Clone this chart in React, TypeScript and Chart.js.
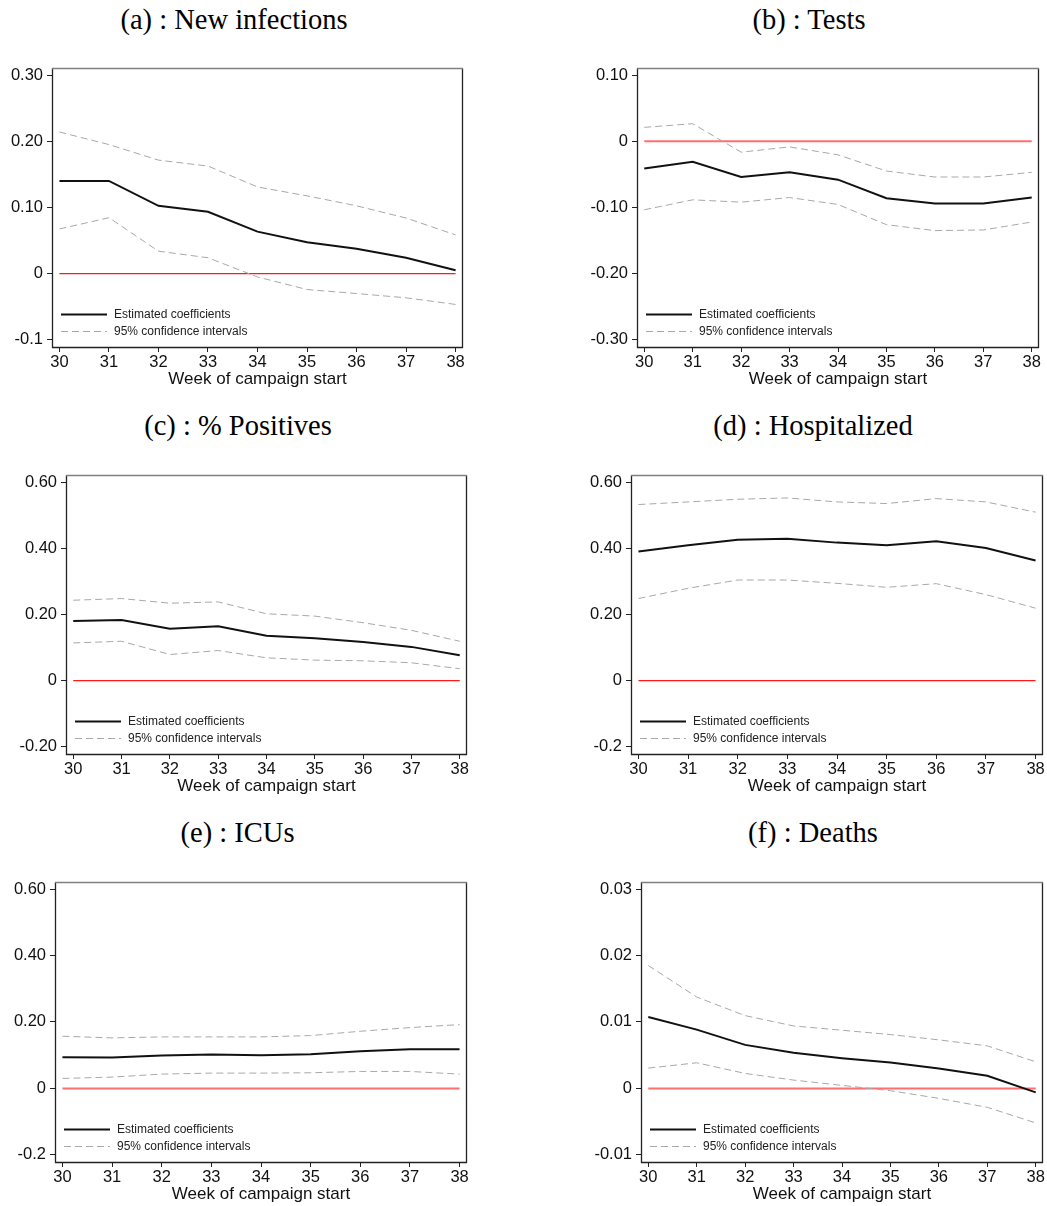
import React, { useEffect, useRef } from 'react';
import { Chart, registerables } from 'chart.js';
Chart.register(...registerables);

const weeks = [30, 31, 32, 33, 34, 35, 36, 37, 38];

const infectionsEst = [0.14, 0.14, 0.1025, 0.0935, 0.0635, 0.0475, 0.0375, 0.024, 0.005];
const infectionsUpper = [0.214, 0.195, 0.1715, 0.1625, 0.131, 0.1175, 0.1025, 0.084, 0.0585];
const infectionsLower = [0.0675, 0.0845, 0.034, 0.024, -0.005, -0.024, -0.03, -0.0365, -0.0465];
const infectionsTicks = [0.3, 0.2, 0.1, 0, -0.1];
const infectionsTickLabels = ['0.30', '0.20', '0.10', '0', '-0.1'];

const testsEst = [-0.041, -0.031, -0.054, -0.047, -0.058, -0.086, -0.094, -0.094, -0.085];
const testsUpper = [0.021, 0.0265, -0.0165, -0.0085, -0.0205, -0.045, -0.054, -0.054, -0.047];
const testsLower = [-0.1035, -0.0885, -0.092, -0.085, -0.0955, -0.126, -0.135, -0.134, -0.122];
const testsTicks = [0.1, 0, -0.1, -0.2, -0.3];
const testsTickLabels = ['0.10', '0', '-0.10', '-0.20', '-0.30'];

const positivesEst = [0.18, 0.183, 0.157, 0.164, 0.136, 0.128, 0.117, 0.102, 0.077];
const positivesUpper = [0.243, 0.248, 0.234, 0.238, 0.202, 0.195, 0.175, 0.152, 0.119];
const positivesLower = [0.114, 0.119, 0.079, 0.091, 0.069, 0.062, 0.06, 0.054, 0.036];
const positivesTicks = [0.6, 0.4, 0.2, 0, -0.2];
const positivesTickLabels = ['0.60', '0.40', '0.20', '0', '-0.20'];

const hospEst = [0.39, 0.409, 0.426, 0.429, 0.417, 0.409, 0.421, 0.401, 0.363];
const hospUpper = [0.532, 0.54, 0.548, 0.552, 0.54, 0.535, 0.55, 0.54, 0.509];
const hospLower = [0.248, 0.279, 0.304, 0.304, 0.294, 0.282, 0.293, 0.26, 0.219];
const hospTicks = [0.6, 0.4, 0.2, 0, -0.2];
const hospTickLabels = ['0.60', '0.40', '0.20', '0', '-0.2'];

const icuEst = [0.094, 0.093, 0.099, 0.102, 0.1, 0.103, 0.112, 0.118, 0.118];
const icuUpper = [0.157, 0.152, 0.155, 0.155, 0.155, 0.159, 0.172, 0.183, 0.192];
const icuLower = [0.03, 0.034, 0.043, 0.046, 0.046, 0.047, 0.051, 0.051, 0.043];
const icuTicks = [0.6, 0.4, 0.2, 0, -0.2];
const icuTickLabels = ['0.60', '0.40', '0.20', '0', '-0.2'];

const deathsEst = [0.01075, 0.00885, 0.00655, 0.00535, 0.00455, 0.0039, 0.003, 0.0019, -0.0006];
const deathsUpper = [0.0185, 0.01375, 0.01095, 0.0094, 0.00875, 0.0081, 0.0073, 0.0064, 0.004];
const deathsLower = [0.00305, 0.00385, 0.00225, 0.00125, 0.00045, -0.00035, -0.0015, -0.00285, -0.0052];
const deathsTicks = [0.03, 0.02, 0.01, 0, -0.01];
const deathsTickLabels = ['0.03', '0.02', '0.01', '0', '-0.01'];

const xTitle = 'Week of campaign start';
const estLabel = 'Estimated coefficients';
const ciLabel = '95% confidence intervals';

type Panel = {
  title: string;
  titleX: number;
  titleY: number;
  box: [number, number, number, number];
  est: number[];
  upper: number[];
  lower: number[];
  ticks: number[];
  tickLabels: string[];
  zeroColor: string;
  zeroWidth: number;
};

const panels: Panel[] = [
  { title: '(a) : New infections', titleX: 234, titleY: 20, box: [52, 66, 463, 347], est: infectionsEst, upper: infectionsUpper, lower: infectionsLower, ticks: infectionsTicks, tickLabels: infectionsTickLabels, zeroColor: '#ff1a1a', zeroWidth: 1.2 },
  { title: '(b) : Tests', titleX: 809, titleY: 20, box: [637, 66, 1039, 347], est: testsEst, upper: testsUpper, lower: testsLower, ticks: testsTicks, tickLabels: testsTickLabels, zeroColor: '#ff6e6e', zeroWidth: 2 },
  { title: '(c) : % Positives', titleX: 238, titleY: 426, box: [66, 473, 467, 754], est: positivesEst, upper: positivesUpper, lower: positivesLower, ticks: positivesTicks, tickLabels: positivesTickLabels, zeroColor: '#ff1a1a', zeroWidth: 1.2 },
  { title: '(d) : Hospitalized', titleX: 813, titleY: 426, box: [631, 473, 1043, 754], est: hospEst, upper: hospUpper, lower: hospLower, ticks: hospTicks, tickLabels: hospTickLabels, zeroColor: '#ff1a1a', zeroWidth: 1.2 },
  { title: '(e) : ICUs', titleX: 237.5, titleY: 833, box: [55, 880, 467, 1162], est: icuEst, upper: icuUpper, lower: icuLower, ticks: icuTicks, tickLabels: icuTickLabels, zeroColor: '#ff6e6e', zeroWidth: 2 },
  { title: '(f) : Deaths', titleX: 813, titleY: 833, box: [641, 880, 1043, 1162], est: deathsEst, upper: deathsUpper, lower: deathsLower, ticks: deathsTicks, tickLabels: deathsTickLabels, zeroColor: '#ff6e6e', zeroWidth: 2 },
];

const SANS = '"Liberation Sans", Arial, sans-serif';
const SERIF = '"Liberation Serif", "Times New Roman", serif';
const CI_COLOR = '#a8a8a8';
const EST_COLOR = '#111111';

const padL = 60, padT = 12, padR = 12, padB = 48;

const boxPlugin = {
  id: 'stataBox',
  afterDatasetsDraw(chart: any) {
    const { ctx, chartArea: a } = chart;
    ctx.save();
    ctx.lineWidth = 1.3;
    ctx.strokeStyle = '#222';
    ctx.beginPath();
    ctx.moveTo(a.left + 0.5, a.top);
    ctx.lineTo(a.left + 0.5, a.bottom + 0.5);
    ctx.lineTo(a.right - 0.5, a.bottom + 0.5);
    ctx.lineTo(a.right - 0.5, a.top);
    ctx.stroke();
    ctx.lineWidth = 1.5;
    ctx.strokeStyle = '#808080';
    ctx.beginPath();
    ctx.moveTo(a.left, a.top + 0.5);
    ctx.lineTo(a.right, a.top + 0.5);
    ctx.stroke();
    ctx.restore();
  },
};

const legendPlugin = {
  id: 'stataLegend',
  afterDraw(chart: any) {
    const { ctx, chartArea: a } = chart;
    const rows = [
      { label: estLabel, color: EST_COLOR, width: 2, dash: [] as number[], dy: 32.5 },
      { label: ciLabel, color: CI_COLOR, width: 1, dash: [7, 4], dy: 15.5 },
    ];
    ctx.save();
    for (const r of rows) {
      const y = a.bottom - r.dy;
      ctx.beginPath();
      ctx.setLineDash(r.dash);
      ctx.lineWidth = r.width;
      ctx.strokeStyle = r.color;
      ctx.moveTo(a.left + 9, y);
      ctx.lineTo(a.left + 55, y);
      ctx.stroke();
      ctx.setLineDash([]);
      ctx.fillStyle = '#222';
      ctx.font = `12px ${SANS}`;
      ctx.textBaseline = 'middle';
      ctx.textAlign = 'left';
      ctx.fillText(r.label, a.left + 62, y);
    }
    ctx.restore();
  },
};

function PanelChart({ p }: { p: Panel }) {
  const ref = useRef<HTMLCanvasElement>(null);
  const [L, T, R, B] = p.box;
  const w = R - L + padL + padR;
  const h = B - T + padT + padB;
  useEffect(() => {
    const lo = Math.min(...p.ticks);
    const hi = Math.max(...p.ticks);
    const m = (hi - lo) * 0.027;
    const pts = (arr: number[]) => weeks.map((x, i) => ({ x, y: arr[i] }));
    const chart = new Chart(ref.current as HTMLCanvasElement, {
      type: 'line',
      data: {
        datasets: [
          { label: estLabel, data: pts(p.est), borderColor: EST_COLOR, borderWidth: 2, pointRadius: 0, fill: false, tension: 0 },
          { label: ciLabel, data: pts(p.upper), borderColor: CI_COLOR, borderWidth: 1, borderDash: [7, 4], pointRadius: 0, fill: false },
          { label: ciLabel + ' (lower)', data: pts(p.lower), borderColor: CI_COLOR, borderWidth: 1, borderDash: [7, 4], pointRadius: 0, fill: false },
          { label: 'zero', data: [{ x: weeks[0], y: 0 }, { x: weeks[weeks.length - 1], y: 0 }], borderColor: p.zeroColor, borderWidth: p.zeroWidth, pointRadius: 0, fill: false },
        ],
      },
      options: {
        responsive: false,
        animation: false,
        devicePixelRatio: 1,
        layout: { padding: { left: 0, top: padT, right: padR, bottom: 0 } },
        plugins: { legend: { display: false }, tooltip: { enabled: false }, title: { display: false } },
        scales: {
          x: {
            type: 'linear',
            min: 29.85,
            max: 38.15,
            afterBuildTicks: (s: any) => { s.ticks = weeks.map((v) => ({ value: v })); },
            afterFit: (s: any) => { s.height = padB; },
            ticks: { callback: (v: any) => String(v), font: { family: SANS, size: 16.5 }, color: '#111', padding: 1, maxRotation: 0, autoSkip: false },
            grid: { display: true, drawOnChartArea: false, drawTicks: true, tickLength: 5, color: '#222', lineWidth: 1 },
            border: { display: false },
            title: { display: true, text: xTitle, font: { family: SANS, size: 17 }, color: '#111', padding: { top: 0, bottom: 5 } },
          },
          y: {
            type: 'linear',
            min: lo - m,
            max: hi + m,
            afterBuildTicks: (s: any) => { s.ticks = p.ticks.map((v) => ({ value: v })); },
            afterFit: (s: any) => { s.width = padL; },
            ticks: {
              callback: (v: any) => {
                const i = p.ticks.findIndex((t) => Math.abs(t - Number(v)) < 1e-9);
                return i >= 0 ? p.tickLabels[i] : '';
              },
              font: { family: SANS, size: 16.5 },
              color: '#111',
              padding: 4,
              autoSkip: false,
            },
            grid: { display: true, drawOnChartArea: false, drawTicks: true, tickLength: 5, color: '#222', lineWidth: 1 },
            border: { display: false },
          },
        },
      } as any,
      plugins: [boxPlugin, legendPlugin],
    });
    return () => chart.destroy();
  }, []);
  return (
    <>
      <div
        style={{
          position: 'absolute',
          left: p.titleX,
          top: p.titleY,
          transform: 'translate(-50%, -50%)',
          fontFamily: SERIF,
          fontSize: 28.5,
          lineHeight: '28px',
          whiteSpace: 'nowrap',
          color: '#000',
        }}
      >
        {p.title}
      </div>
      <canvas
        ref={ref}
        width={w}
        height={h}
        style={{ position: 'absolute', left: L - padL, top: T - padT, width: w, height: h }}
      />
    </>
  );
}

export default function App() {
  return (
    <div style={{ position: 'absolute', left: 0, top: 0, width: 1047, height: 1206, background: '#fff', overflow: 'hidden' }}>
      {panels.map((p, i) => (
        <PanelChart key={i} p={p} />
      ))}
    </div>
  );
}
